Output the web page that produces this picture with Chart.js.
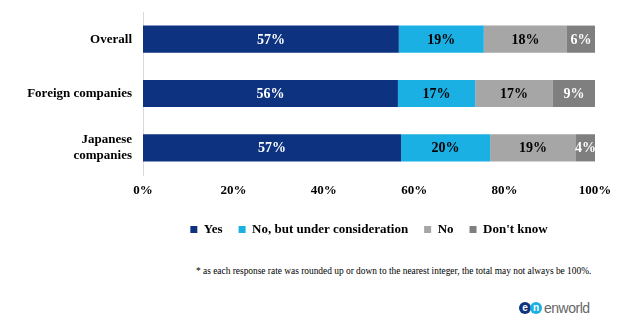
<!DOCTYPE html>
<html>
<head>
<meta charset="utf-8">
<script src="https://cdn.jsdelivr.net/npm/chart.js@4"></script>
<style>
    body { margin: 0; background: #fff; }
    #wrap { position: relative; width: 644px; height: 330px; }
    #chartBox { position: absolute; left: 0; top: 0; width: 644px; height: 250px; }
    #note {
        position: absolute; left: 196px; top: 266px;
        font: 9.4px "Liberation Serif", serif; color: #000; white-space: nowrap;
    }
    #logo {
        position: absolute; left: 519px; top: 300px; height: 16px;
        display: flex; align-items: center;
        font: 14px "Liberation Sans", Arial, sans-serif; color: #666; letter-spacing: -0.5px;
    }
    .dot {
        width: 12px; height: 12px; border-radius: 50%; color: #fff;
        font: bold 10px "Liberation Sans", sans-serif; text-align: center; line-height: 11px;
        letter-spacing: 0;
    }
</style>
</head>
<body>
<div id="wrap">
    <div id="chartBox"><canvas id="chart"></canvas></div>
    <div id="note">* as each response rate was rounded up or down to the nearest integer, the total may not always be 100%.</div>
    <div id="logo">
        <div class="dot" style="background:#0d3380">e</div>
        <div class="dot" style="background:#1bb0e4;margin-left:-1px">n</div>
        <span style="margin-left:2px">enworld</span>
    </div>
</div>
<script>
const categories = ["Overall", "Foreign companies", ["Japanese", "companies"]];

const yesData = [56.6, 56.4, 57.1];
const underConsiderationData = [18.8, 17.1, 19.7];
const noData = [18.4, 17.2, 19.0];
const dontKnowData = [6.2, 9.3, 4.2];

const seriesNames = ["Yes", "No, but under consideration", "No", "Don't know"];
const seriesColors = ["#0d3380", "#1bb0e4", "#a6a6a6", "#7f7f7f"];
const labelColors = ["#ffffff", "#000000", "#000000", "#ffffff"];

const xTicks = [0, 20, 40, 60, 80, 100];

const serif = "'Liberation Serif', 'Times New Roman', serif";

const barLabels = {
    id: "barLabels",
    afterDatasetsDraw(chart) {
        const ctx = chart.ctx;
        ctx.save();
        ctx.font = "bold 14px " + serif;
        ctx.textAlign = "center";
        ctx.textBaseline = "middle";
        chart.data.datasets.forEach((ds, i) => {
            const meta = chart.getDatasetMeta(i);
            meta.data.forEach((bar, j) => {
                ctx.fillStyle = labelColors[i];
                ctx.fillText(Math.round(ds.data[j]) + "%", (bar.x + bar.base) / 2, bar.y + 1);
            });
        });
        ctx.restore();
    }
};

const datasets = [yesData, underConsiderationData, noData, dontKnowData].map((d, i) => ({
    label: seriesNames[i],
    data: d,
    backgroundColor: seriesColors[i],
    barPercentage: 0.5,
    categoryPercentage: 1
}));

new Chart(document.getElementById("chart"), {
    type: "bar",
    data: { labels: categories, datasets: datasets },
    options: {
        indexAxis: "y",
        responsive: true,
        maintainAspectRatio: false,
        animation: false,
        layout: { padding: { left: 0, right: 49, top: 12, bottom: 4 } },
        scales: {
            x: {
                stacked: true,
                min: 0,
                max: 100,
                grid: { display: false, drawTicks: false },
                border: { display: false },
                afterBuildTicks: (scale) => { scale.ticks = xTicks.map(v => ({ value: v })); },
                afterFit: (scale) => { scale.height = 32; },
                ticks: {
                    padding: 8,
                    color: "#000",
                    font: { family: serif, size: 13, weight: "bold" },
                    callback: (v) => v + "%"
                }
            },
            y: {
                stacked: true,
                grid: { display: false, drawTicks: false },
                border: { display: true, color: "#d9d9d9", width: 1 },
                afterFit: (scale) => {
                    scale.width = 143;
                    scale.paddingTop = 0;
                    scale.paddingBottom = 0;
                },
                ticks: {
                    padding: 11,
                    color: "#000",
                    font: { family: serif, size: 13, weight: "bold" }
                }
            }
        },
        plugins: {
            legend: {
                position: "bottom",
                fullSize: false,
                labels: {
                    boxWidth: 7,
                    boxHeight: 7,
                    padding: 16,
                    color: "#000",
                    font: { family: serif, size: 13, weight: "bold" }
                }
            },
            tooltip: { enabled: false }
        }
    },
    plugins: [barLabels]
});
</script>
</body>
</html>
